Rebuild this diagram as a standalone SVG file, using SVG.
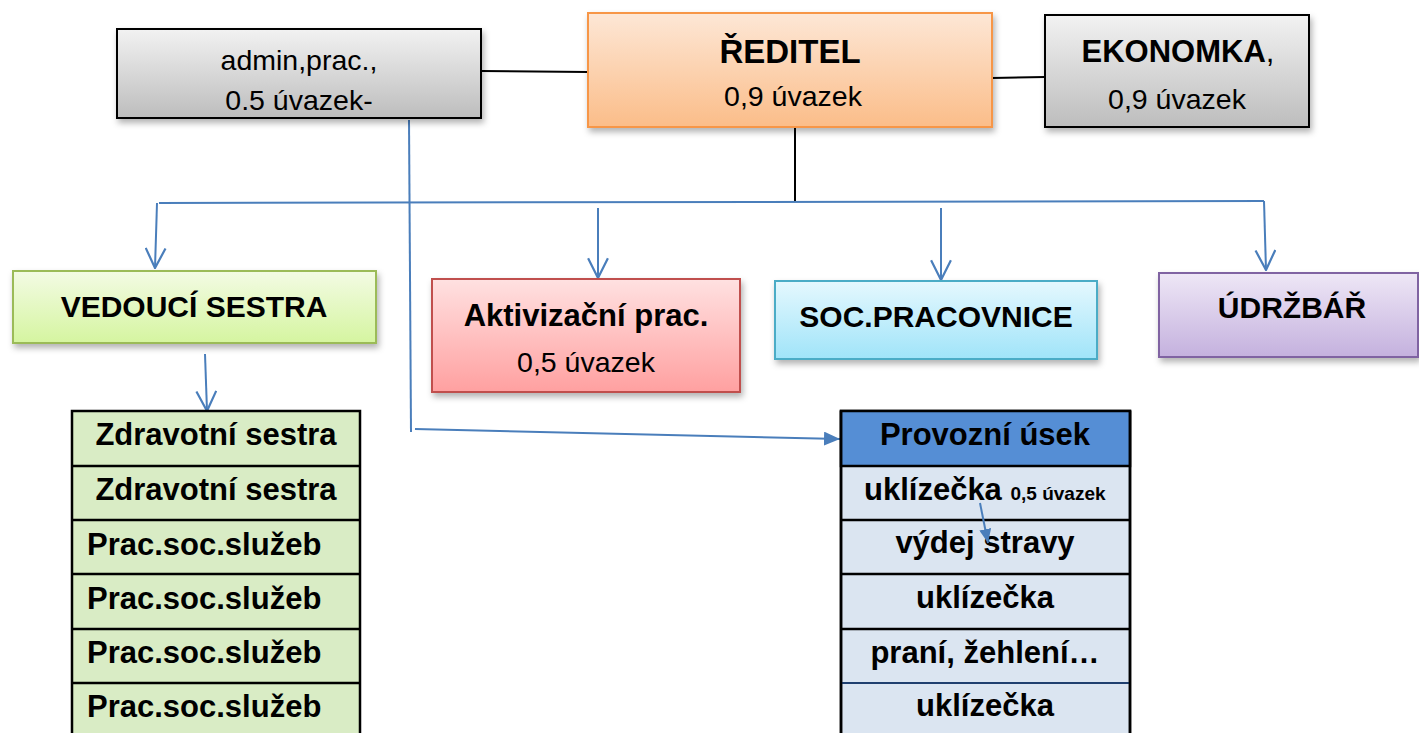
<svg xmlns="http://www.w3.org/2000/svg" width="1419" height="733" viewBox="0 0 1419 733">
<defs>
<linearGradient id="gGray" x1="0" y1="0" x2="0" y2="1"><stop offset="0" stop-color="#f2f2f2"/><stop offset="1" stop-color="#bdbdbd"/></linearGradient>
<linearGradient id="gOrange" x1="0" y1="0" x2="0" y2="1"><stop offset="0" stop-color="#fde7d6"/><stop offset="1" stop-color="#fbbd89"/></linearGradient>
<linearGradient id="gGreen" x1="0" y1="0" x2="0" y2="1"><stop offset="0" stop-color="#f3fbe4"/><stop offset="1" stop-color="#d5f5a0"/></linearGradient>
<linearGradient id="gRed" x1="0" y1="0" x2="0" y2="1"><stop offset="0" stop-color="#ffe1e1"/><stop offset="1" stop-color="#ffa0a0"/></linearGradient>
<linearGradient id="gCyan" x1="0" y1="0" x2="0" y2="1"><stop offset="0" stop-color="#e5f8fe"/><stop offset="1" stop-color="#a0e4f9"/></linearGradient>
<linearGradient id="gPurple" x1="0" y1="0" x2="0" y2="1"><stop offset="0" stop-color="#eee7f6"/><stop offset="1" stop-color="#c4b1de"/></linearGradient>
<filter id="shadow" x="-10%" y="-10%" width="130%" height="140%"><feDropShadow dx="2" dy="4" stdDeviation="3" flood-color="#000" flood-opacity="0.3"/></filter>
<marker id="openArrow" markerUnits="userSpaceOnUse" markerWidth="22" markerHeight="22" viewBox="0 0 20 20" refX="19" refY="10" orient="auto"><path d="M1,1 L19,10 L1,19" fill="none" stroke="#4a7ebb" stroke-width="2"/></marker>
<marker id="fillArrow" markerUnits="userSpaceOnUse" markerWidth="16" markerHeight="14" viewBox="0 0 16 14" refX="16" refY="7" orient="auto"><path d="M0,0 L16,7 L0,14 z" fill="#4a7ebb"/></marker>
<marker id="fillArrowSmall" markerUnits="userSpaceOnUse" markerWidth="14" markerHeight="12" viewBox="0 0 14 12" refX="14" refY="6" orient="auto"><path d="M0,0 L14,6 L0,12 z" fill="#4a7ebb"/></marker>
</defs>
<style>
text{font-family:"Liberation Sans",Arial,sans-serif;fill:#000}
.b{font-weight:bold;font-size:31px}
.r{font-size:28.5px}
.s{font-weight:bold;font-size:19px}
.mid{text-anchor:middle}
.blk{stroke:#000;stroke-width:2;fill:none}
.blue{stroke:#4a7ebb;stroke-width:2;fill:none}
.tbl{stroke:#000;stroke-width:2.5}
</style>
<rect width="1419" height="733" fill="#fff"/>

<g id="connectors">
<line class="blk" x1="481" y1="71" x2="588" y2="72"/>
<line class="blk" x1="992" y1="78" x2="1045" y2="77"/>
<line class="blk" x1="795" y1="127" x2="795" y2="201"/>
<line class="blue" x1="159" y1="203" x2="1264" y2="201"/>
<line class="blue" x1="157" y1="203" x2="155" y2="268" marker-end="url(#openArrow)"/>
<line class="blue" x1="598" y1="208" x2="598" y2="278" marker-end="url(#openArrow)"/>
<line class="blue" x1="941" y1="208" x2="941" y2="280" marker-end="url(#openArrow)"/>
<line class="blue" x1="1264" y1="201" x2="1266" y2="270" marker-end="url(#openArrow)"/>
<line class="blue" x1="205" y1="354" x2="207" y2="411" marker-end="url(#openArrow)"/>
<line class="blue" x1="409" y1="120" x2="411" y2="432"/>
<line class="blue" x1="415" y1="429" x2="840" y2="439" marker-end="url(#fillArrow)"/>
</g>

<g id="admin">
<rect x="117" y="29" width="364" height="89" fill="url(#gGray)" stroke="#000" stroke-width="2" filter="url(#shadow)"/>
<text class="r mid" x="299" y="70">admin,prac.,</text>
<text class="r mid" x="299" y="110">0.5 úvazek-</text>
</g>

<g id="reditel">
<rect x="588" y="13" width="404" height="114" fill="url(#gOrange)" stroke="#f79646" stroke-width="2" filter="url(#shadow)"/>
<text class="b mid" x="790" y="63" style="font-size:33px">ŘEDITEL</text>
<text class="r mid" x="793" y="106">0,9 úvazek</text>
</g>

<g id="ekonomka">
<rect x="1045" y="15" width="264" height="112" fill="url(#gGray)" stroke="#000" stroke-width="2" filter="url(#shadow)"/>
<text class="mid" x="1178" y="62" style="font-size:31px"><tspan font-weight="bold">EKONOMKA</tspan>,</text>
<text class="r mid" x="1177" y="109">0,9 úvazek</text>
</g>

<g id="vedouci">
<rect x="13" y="271" width="363" height="72" fill="url(#gGreen)" stroke="#9bbb59" stroke-width="2" filter="url(#shadow)"/>
<text class="b mid" x="194" y="317" style="font-size:30px">VEDOUCÍ SESTRA</text>
</g>

<g id="aktivizacni">
<rect x="432" y="279" width="308" height="113" fill="url(#gRed)" stroke="#c0504d" stroke-width="2" filter="url(#shadow)"/>
<text class="b mid" x="586" y="326">Aktivizační prac.</text>
<text class="r mid" x="586" y="372">0,5 úvazek</text>
</g>

<g id="soc">
<rect x="775" y="281" width="322" height="78" fill="url(#gCyan)" stroke="#4bacc6" stroke-width="2" filter="url(#shadow)"/>
<text class="b mid" x="936" y="327" style="font-size:30px">SOC.PRACOVNICE</text>
</g>

<g id="udrzbar">
<rect x="1159" y="273" width="259" height="84" fill="url(#gPurple)" stroke="#8064a2" stroke-width="2" filter="url(#shadow)"/>
<text class="b mid" x="1292" y="318" style="font-size:30px">ÚDRŽBÁŘ</text>
</g>

<g id="tabulka-sestry">
<rect x="72" y="411" width="288" height="330" fill="#d9ecc5" class="tbl"/>
<line class="tbl" x1="72" y1="466" x2="360" y2="466"/>
<line class="tbl" x1="72" y1="520" x2="360" y2="520"/>
<line class="tbl" x1="72" y1="574" x2="360" y2="574"/>
<line class="tbl" x1="72" y1="629" x2="360" y2="629"/>
<line class="tbl" x1="72" y1="683" x2="360" y2="683"/>
<text class="b mid" x="216" y="445">Zdravotní sestra</text>
<text class="b mid" x="216" y="500">Zdravotní sestra</text>
<text class="b" x="87" y="555">Prac.soc.služeb</text>
<text class="b" x="87" y="609">Prac.soc.služeb</text>
<text class="b" x="87" y="663">Prac.soc.služeb</text>
<text class="b" x="87" y="717">Prac.soc.služeb</text>
</g>

<g id="tabulka-provozni">
<rect x="841" y="411" width="289" height="330" fill="#dbe5f1" class="tbl"/>
<rect x="841" y="411" width="289" height="55" fill="#558ed5" class="tbl"/>
<line class="tbl" x1="841" y1="520" x2="1130" y2="520"/>
<line class="tbl" x1="841" y1="574" x2="1130" y2="574"/>
<line class="tbl" x1="841" y1="629" x2="1130" y2="629"/>
<line x1="841" y1="683" x2="1130" y2="683" stroke="#1f3f6f" stroke-width="1.8"/>
<line class="tbl" x1="841" y1="411" x2="841" y2="733"/>
<line class="tbl" x1="1130" y1="411" x2="1130" y2="733"/>
<text class="b mid" x="985" y="445">Provozní úsek</text>
<text class="b" x="864" y="500">uklízečka <tspan class="s">0,5 úvazek</tspan></text>
<text class="b mid" x="985" y="553">výdej stravy</text>
<text class="b mid" x="985" y="608">uklízečka</text>
<text class="b mid" x="985" y="663">praní, žehlení…</text>
<text class="b mid" x="985" y="716">uklízečka</text>
<line class="blue" x1="980" y1="503" x2="988" y2="543" marker-end="url(#fillArrowSmall)"/>
</g>
</svg>
